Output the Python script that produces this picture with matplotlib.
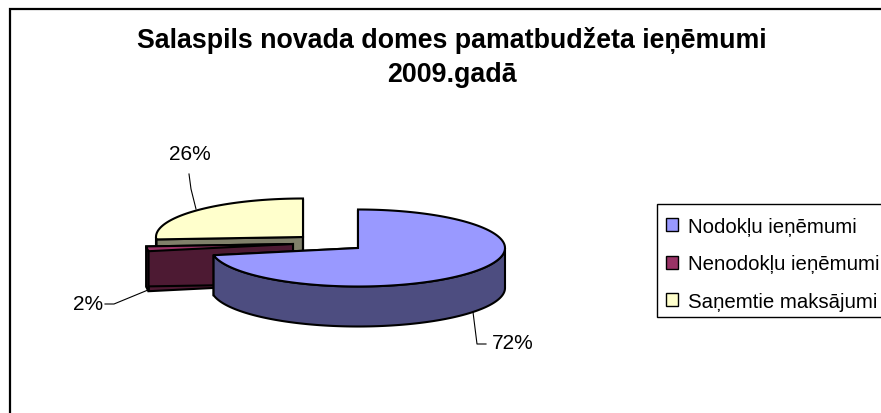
import numpy as np
import matplotlib
matplotlib.use("Agg")
import matplotlib.pyplot as plt
from matplotlib.patches import Polygon, Patch, Rectangle

plt.rcParams['font.family'] = ['Liberation Sans', 'DejaVu Sans']

title_lines = ["Salaspils novada domes pamatbudžeta ieņēmumi", "2009.gadā"]
categories = ["Nodokļu ieņēmumi", "Nenodokļu ieņēmumi", "Saņemtie maksājumi"]
shares = [72, 2, 26]

top_colors = ["#9999FF", "#993366", "#FFFFCC"]
side_colors = ["#4D4D80", "#4D1A33", "#80806A"]
centers = [(358, 249), (293, 245), (303, 238)]
RX, RY, DEPTH = 147, 38.5, 40
label_pos = [(513, 344), (88, 305), (190, 155)]
leaders = [[(473, 313), (477, 345), (486, 345)],
           [(105, 305), (114, 305), (148, 291)],
           [(189, 175), (191, 190), (196, 210)]]

fig = plt.figure(figsize=(8.81, 4.14), dpi=100)
ax = fig.add_axes([0, 0, 1, 1])
ax.set_xlim(0, 881)
ax.set_ylim(414, 0)
ax.axis('off')

ax.plot([10, 10, 881], [414, 10, 10], color='black', lw=1.6, solid_joinstyle='miter')

ax.text(452, 40, title_lines[0], ha='center', va='center', fontsize=19.3, fontweight='bold')
ax.text(452, 74.5, title_lines[1], ha='center', va='center', fontsize=19.3, fontweight='bold')


def pt(c, deg):
    a = np.radians(deg)
    return c[0] + RX * np.sin(a), c[1] - RY * np.cos(a)


def draw_slice(c, a0, a1, top, side, z):
    angs = np.linspace(a0, a1, 240)
    x = c[0] + RX * np.sin(np.radians(angs))
    y = c[1] - RY * np.cos(np.radians(angs))
    for a in (a0, a1):
        px, py = pt(c, a)
        ax.add_patch(Polygon([c, (px, py), (px, py + DEPTH), (c[0], c[1] + DEPTH)],
                             closed=True, fc=side, ec='black', lw=1.5, zorder=z))
    vis = (angs >= 90) & (angs <= 270)
    if vis.any():
        xv, yv = x[vis], y[vis]
        rim = np.r_[np.c_[xv, yv], np.c_[xv, yv + DEPTH][::-1]]
        ax.add_patch(Polygon(rim, closed=True, fc=side, ec='black', lw=1.5, zorder=z + 0.1))
    ax.add_patch(Polygon(np.r_[[c], np.c_[x, y]], closed=True, fc=top, ec='black', lw=1.5,
                         zorder=z + 0.2))


starts = np.r_[0, np.cumsum(shares)[:-1]] * 3.6
ends = np.cumsum(shares) * 3.6
for i, z in zip([2, 1, 0], [1, 2, 3]):
    draw_slice(centers[i], starts[i], ends[i], top_colors[i], side_colors[i], z)

for s, p, l in zip(shares, label_pos, leaders):
    ax.text(p[0], p[1], f"{s}%", ha='center', va='center', fontsize=15)
    ax.plot(*zip(*l), color='black', lw=0.8, zorder=5)

ax.add_patch(Rectangle((657, 205), 240, 113, fc='white', ec='black', lw=1.0, zorder=6, clip_on=True))
handles = [Patch(fc=c, ec='black', lw=1.0) for c in top_colors]
leg = ax.legend(handles, categories, loc='upper left', bbox_to_anchor=(657 / 881, 1 - 209 / 414),
                bbox_transform=fig.transFigure, fontsize=14.7, frameon=False,
                handlelength=0.6, handleheight=0.6,
                handletextpad=0.5, labelspacing=0.92, borderpad=0.42, borderaxespad=0)
leg.set_zorder(7)

fig.savefig("out.png", dpi=100)
